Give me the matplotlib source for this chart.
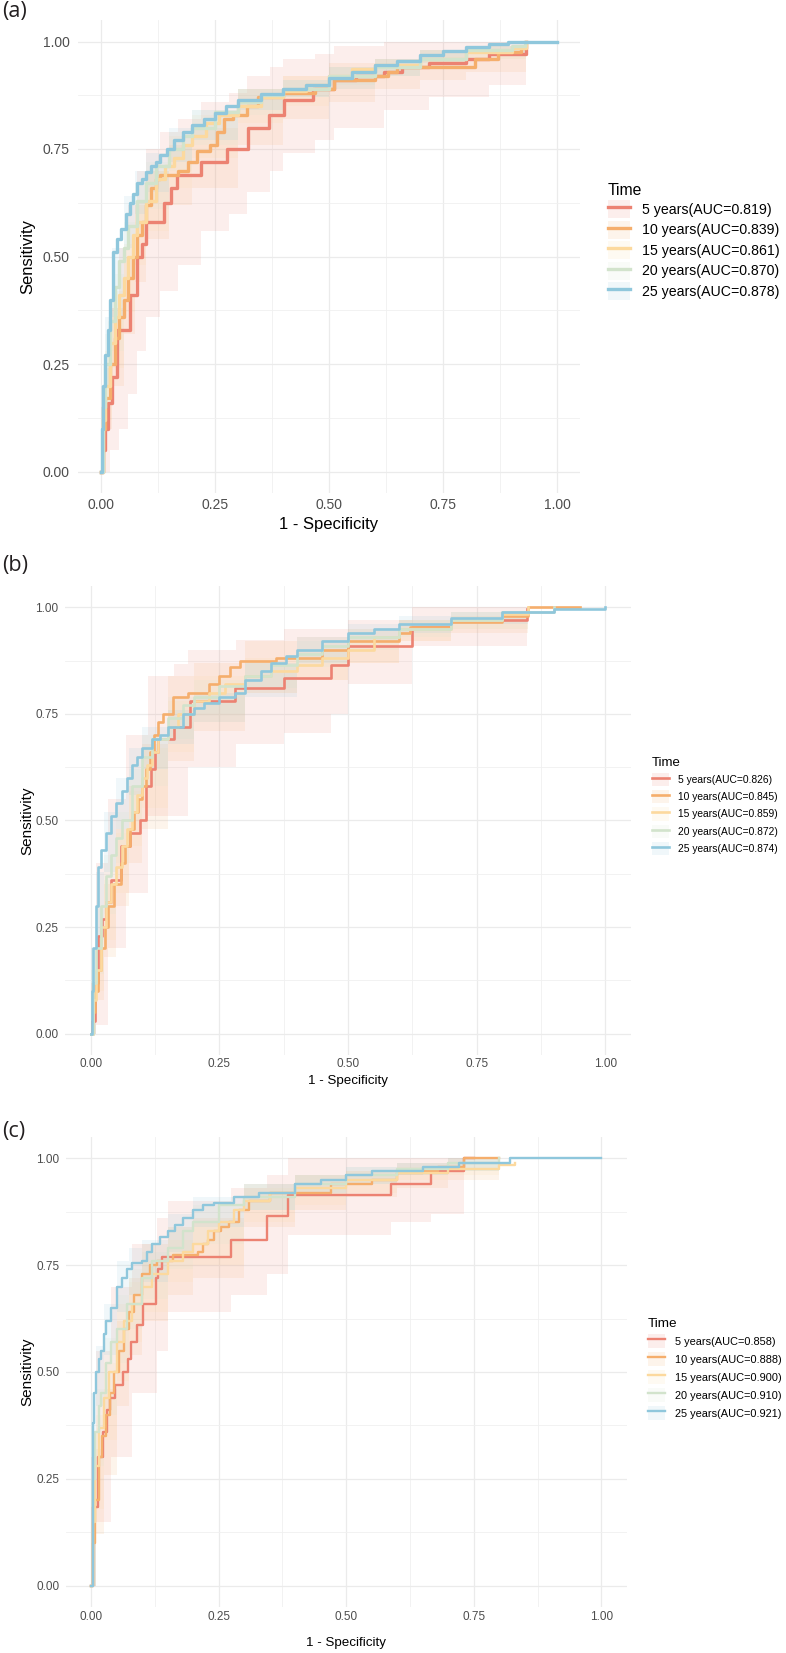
import matplotlib
matplotlib.use('Agg')
import matplotlib.pyplot as plt
from matplotlib.lines import Line2D
from matplotlib.patches import Patch

plt.rcParams['font.family'] = ['Liberation Sans', 'DejaVu Sans']

# ---------------- data ----------------
tick_vals = [0, 0.25, 0.5, 0.75, 1.0]
tick_labels = ['0.00', '0.25', '0.50', '0.75', '1.00']
series_names = ['5 years', '10 years', '15 years', '20 years', '25 years']
colors = ['#EC8272', '#F5AE6C', '#FCD99E', '#D2E3CC', '#8FC7DC']

a_auc = ['0.819', '0.839', '0.861', '0.870', '0.878']
b_auc = ['0.826', '0.845', '0.859', '0.872', '0.874']
c_auc = ['0.858', '0.888', '0.900', '0.910', '0.921']

# panel (a)
a5_fpr = [0, 0.004, 0.01, 0.016, 0.024, 0.036, 0.063, 0.079, 0.09, 0.10, 0.138, 0.153, 0.167,
          0.22, 0.276, 0.322, 0.369, 0.402, 0.465, 0.511, 0.56, 0.62, 0.66, 0.72, 0.80, 0.85, 0.932]
a5_tpr = [0, 0.05, 0.10, 0.16, 0.22, 0.33, 0.41, 0.50, 0.53, 0.58, 0.625, 0.66, 0.69,
          0.72, 0.75, 0.80, 0.83, 0.865, 0.89, 0.91, 0.92, 0.93, 0.94, 0.95, 0.96, 0.97, 1.0]
a10_fpr = [0, 0.005, 0.01, 0.02, 0.03, 0.04, 0.05, 0.06, 0.07, 0.08, 0.09, 0.10, 0.11, 0.12, 0.13,
           0.17, 0.19, 0.21, 0.24, 0.255, 0.27, 0.29, 0.32, 0.345, 0.40, 0.47, 0.51, 0.60, 0.63,
           0.65, 0.82, 0.87, 0.92, 0.932]
a10_tpr = [0, 0.10, 0.17, 0.25, 0.31, 0.36, 0.40, 0.45, 0.50, 0.55, 0.58, 0.62, 0.66, 0.68, 0.69,
           0.70, 0.72, 0.745, 0.76, 0.79, 0.82, 0.83, 0.85, 0.87, 0.88, 0.89, 0.91, 0.92, 0.93,
           0.94, 0.96, 0.975, 0.985, 1.0]
a15_fpr = [0, 0.005, 0.01, 0.02, 0.03, 0.04, 0.05, 0.06, 0.07, 0.08, 0.10, 0.12, 0.14, 0.16, 0.18,
           0.20, 0.23, 0.26, 0.30, 0.35, 0.40, 0.45, 0.50, 0.55, 0.60, 0.70, 0.80, 0.90, 0.932]
a15_tpr = [0, 0.12, 0.20, 0.30, 0.36, 0.41, 0.45, 0.50, 0.55, 0.58, 0.63, 0.68, 0.71, 0.73, 0.76,
           0.78, 0.81, 0.83, 0.85, 0.87, 0.885, 0.90, 0.92, 0.935, 0.945, 0.96, 0.975, 0.985, 1.0]
a20_fpr = [0, 0.005, 0.01, 0.02, 0.03, 0.04, 0.05, 0.06, 0.08, 0.10, 0.12, 0.15, 0.18, 0.20, 0.25,
           0.30, 0.35, 0.40, 0.50, 0.60, 0.70, 0.80, 0.90, 0.93]
a20_tpr = [0, 0.15, 0.25, 0.35, 0.43, 0.49, 0.52, 0.57, 0.63, 0.67, 0.71, 0.75, 0.78, 0.80, 0.835,
           0.86, 0.875, 0.89, 0.92, 0.94, 0.96, 0.98, 0.99, 1.0]
a25_fpr = [0, 0.002, 0.005, 0.01, 0.015, 0.02, 0.027, 0.035, 0.044, 0.055, 0.065, 0.071, 0.08,
           0.09, 0.099, 0.11, 0.12, 0.13, 0.145, 0.16, 0.18, 0.20, 0.225, 0.25, 0.275, 0.30,
           0.35, 0.40, 0.45, 0.50, 0.55, 0.60, 0.65, 0.70, 0.75, 0.80, 0.85, 0.893, 1.0]
a25_tpr = [0, 0.10, 0.20, 0.27, 0.33, 0.40, 0.51, 0.54, 0.565, 0.60, 0.625, 0.646, 0.67,
           0.68, 0.697, 0.71, 0.72, 0.736, 0.75, 0.77, 0.79, 0.805, 0.82, 0.833, 0.85, 0.864,
           0.878, 0.89, 0.90, 0.914, 0.93, 0.945, 0.955, 0.968, 0.978, 0.988, 0.995, 1.0, 1.0]

a5_band_fpr = [0, 0.02, 0.04, 0.06, 0.08, 0.10, 0.13, 0.17, 0.22, 0.28, 0.32, 0.37, 0.40, 0.47,
               0.51, 0.62, 0.72, 0.85, 0.932]
a5_lo = [0, 0.05, 0.10, 0.18, 0.28, 0.36, 0.42, 0.48, 0.56, 0.60, 0.65, 0.70, 0.74, 0.77,
         0.80, 0.84, 0.87, 0.90, 0.90]
a5_hi = [0.15, 0.38, 0.52, 0.62, 0.70, 0.75, 0.79, 0.82, 0.86, 0.88, 0.92, 0.94, 0.96, 0.97,
         0.99, 1.0, 1.0, 1.0, 1.0]
a_band_fpr = [0, 0.01, 0.025, 0.05, 0.075, 0.1, 0.15, 0.2, 0.3, 0.4, 0.5, 0.6, 0.7, 0.8, 0.932]
a10_lo = [0, 0.10, 0.20, 0.32, 0.44, 0.54, 0.62, 0.66, 0.76, 0.82, 0.86, 0.89, 0.91, 0.93, 0.95]
a10_hi = [0.1, 0.24, 0.38, 0.50, 0.62, 0.70, 0.76, 0.80, 0.89, 0.92, 0.95, 0.96, 0.98, 0.99, 1.0]
a15_lo = [0, 0.12, 0.24, 0.37, 0.48, 0.56, 0.66, 0.73, 0.81, 0.85, 0.89, 0.92, 0.94, 0.96, 0.97]
a15_hi = [0.12, 0.28, 0.42, 0.53, 0.63, 0.70, 0.78, 0.83, 0.89, 0.92, 0.94, 0.96, 0.98, 0.99, 1.0]
a20_lo = [0, 0.16, 0.28, 0.45, 0.55, 0.61, 0.70, 0.76, 0.83, 0.87, 0.90, 0.92, 0.94, 0.96, 0.98]
a20_hi = [0.15, 0.32, 0.46, 0.58, 0.67, 0.72, 0.79, 0.84, 0.89, 0.91, 0.94, 0.96, 0.98, 0.99, 1.0]
a25_lo = [0, 0.20, 0.36, 0.52, 0.60, 0.65, 0.72, 0.77, 0.84, 0.87, 0.89, 0.92, 0.95, 0.97, 0.99]
a25_hi = [0.2, 0.36, 0.52, 0.64, 0.70, 0.74, 0.80, 0.84, 0.89, 0.91, 0.94, 0.96, 0.98, 0.99, 1.0]

# panel (b)
b5_fpr = [0, 0.003, 0.008, 0.015, 0.022, 0.03, 0.039, 0.058, 0.076, 0.095, 0.107, 0.117, 0.125,
          0.131, 0.161, 0.193, 0.28, 0.375, 0.467, 0.50, 0.625, 0.70, 0.847]
b5_tpr = [0, 0.03, 0.12, 0.23, 0.27, 0.31, 0.36, 0.44, 0.47, 0.50, 0.58, 0.62, 0.66,
          0.69, 0.72, 0.78, 0.81, 0.835, 0.865, 0.91, 0.955, 0.97, 0.995]
b10_fpr = [0, 0.004, 0.008, 0.014, 0.02, 0.027, 0.034, 0.045, 0.058, 0.067, 0.076, 0.085, 0.092,
           0.10, 0.107, 0.115, 0.122, 0.13, 0.14, 0.16, 0.19, 0.23, 0.25, 0.27, 0.29, 0.36,
           0.45, 0.50, 0.60, 0.62, 0.70, 0.80, 0.85, 0.95]
b10_tpr = [0, 0.05, 0.10, 0.15, 0.20, 0.25, 0.30, 0.35, 0.40, 0.44, 0.48, 0.52, 0.55,
           0.58, 0.62, 0.66, 0.70, 0.73, 0.75, 0.79, 0.80, 0.82, 0.84, 0.86, 0.875, 0.88,
           0.90, 0.92, 0.94, 0.955, 0.965, 0.98, 1.0, 1.0]
b15_fpr = [0, 0.005, 0.01, 0.02, 0.03, 0.04, 0.05, 0.06, 0.07, 0.08, 0.09, 0.10, 0.11, 0.12, 0.13,
           0.15, 0.17, 0.20, 0.23, 0.26, 0.30, 0.35, 0.40, 0.45, 0.50, 0.55, 0.60, 0.70, 0.80, 0.85]
b15_tpr = [0, 0.08, 0.15, 0.25, 0.31, 0.35, 0.39, 0.44, 0.48, 0.52, 0.56, 0.60, 0.63, 0.66, 0.69,
           0.72, 0.75, 0.78, 0.80, 0.82, 0.84, 0.85, 0.865, 0.88, 0.90, 0.93, 0.95, 0.97, 0.985, 1.0]
b20_fpr = [0, 0.005, 0.01, 0.02, 0.03, 0.04, 0.05, 0.06, 0.08, 0.10, 0.12, 0.15, 0.18, 0.20, 0.25,
           0.30, 0.35, 0.40, 0.45, 0.50, 0.60, 0.70, 0.80, 0.90]
b20_tpr = [0, 0.12, 0.20, 0.30, 0.37, 0.42, 0.46, 0.50, 0.58, 0.65, 0.69, 0.74, 0.77, 0.79, 0.815,
           0.84, 0.865, 0.89, 0.91, 0.93, 0.95, 0.97, 0.99, 1.0]
b25_fpr = [0, 0.002, 0.005, 0.01, 0.015, 0.02, 0.03, 0.04, 0.05, 0.06, 0.07, 0.08, 0.09, 0.10,
           0.12, 0.135, 0.15, 0.18, 0.20, 0.22, 0.25, 0.28, 0.30, 0.33, 0.35, 0.38, 0.40, 0.45,
           0.50, 0.55, 0.60, 0.70, 0.80, 0.90, 1.0]
b25_tpr = [0, 0.10, 0.20, 0.30, 0.39, 0.43, 0.47, 0.51, 0.54, 0.57, 0.60, 0.63, 0.65, 0.67,
           0.69, 0.70, 0.72, 0.75, 0.765, 0.775, 0.79, 0.80, 0.83, 0.85, 0.87, 0.885, 0.90, 0.92,
           0.94, 0.95, 0.96, 0.975, 0.99, 0.995, 1.0]

b5_band_fpr = [0, 0.01, 0.034, 0.068, 0.112, 0.161, 0.19, 0.282, 0.375, 0.467, 0.50, 0.625, 0.847]
b5_lo = [0, 0.02, 0.20, 0.33, 0.51, 0.51, 0.625, 0.68, 0.705, 0.75, 0.82, 0.91, 0.91]
b5_hi = [0.12, 0.40, 0.55, 0.70, 0.84, 0.867, 0.90, 0.924, 0.948, 0.948, 0.97, 1.0, 1.0]
b_band_fpr = [0, 0.01, 0.025, 0.05, 0.075, 0.1, 0.15, 0.2, 0.3, 0.4, 0.5, 0.6, 0.7, 0.85]
b10_lo = [0, 0.08, 0.18, 0.30, 0.40, 0.48, 0.64, 0.71, 0.80, 0.83, 0.87, 0.92, 0.94, 0.97]
b10_hi = [0.1, 0.20, 0.35, 0.48, 0.58, 0.68, 0.84, 0.87, 0.92, 0.93, 0.95, 0.97, 0.98, 1.0]
b15_lo = [0, 0.10, 0.22, 0.33, 0.44, 0.53, 0.66, 0.73, 0.80, 0.83, 0.87, 0.92, 0.95, 0.97]
b15_hi = [0.1, 0.22, 0.36, 0.47, 0.57, 0.67, 0.78, 0.84, 0.88, 0.90, 0.93, 0.97, 0.99, 1.0]
b20_lo = [0, 0.14, 0.28, 0.40, 0.50, 0.58, 0.69, 0.75, 0.81, 0.86, 0.90, 0.93, 0.95, 0.98]
b20_hi = [0.15, 0.30, 0.42, 0.52, 0.62, 0.70, 0.79, 0.83, 0.87, 0.92, 0.95, 0.97, 0.99, 1.0]
b25_lo = [0, 0.22, 0.38, 0.48, 0.56, 0.62, 0.68, 0.73, 0.79, 0.87, 0.92, 0.94, 0.96, 0.98]
b25_hi = [0.2, 0.38, 0.52, 0.60, 0.67, 0.72, 0.76, 0.80, 0.87, 0.93, 0.96, 0.98, 0.99, 1.0]

# panel (c)
c5_fpr = [0, 0.003, 0.013, 0.023, 0.032, 0.037, 0.047, 0.062, 0.072, 0.079, 0.091, 0.101, 0.128,
          0.131, 0.14, 0.275, 0.345, 0.386, 0.587, 0.666, 0.73, 0.75]
c5_tpr = [0, 0.185, 0.30, 0.36, 0.41, 0.44, 0.47, 0.50, 0.53, 0.57, 0.61, 0.66, 0.72,
          0.74, 0.77, 0.81, 0.865, 0.915, 0.94, 0.97, 1.0, 1.0]
c10_fpr = [0, 0.003, 0.008, 0.015, 0.022, 0.03, 0.037, 0.045, 0.055, 0.065, 0.075, 0.085, 0.10,
           0.115, 0.13, 0.16, 0.21, 0.22, 0.23, 0.24, 0.255, 0.27, 0.29, 0.31, 0.35, 0.47, 0.55,
           0.60, 0.65, 0.68, 0.73, 0.80]
c10_tpr = [0, 0.10, 0.20, 0.30, 0.35, 0.40, 0.45, 0.50, 0.55, 0.60, 0.64, 0.68, 0.73,
           0.75, 0.76, 0.775, 0.78, 0.80, 0.81, 0.83, 0.84, 0.85, 0.88, 0.90, 0.92, 0.94, 0.95,
           0.965, 0.97, 0.98, 1.0, 1.0]
c15_fpr = [0, 0.003, 0.008, 0.015, 0.025, 0.035, 0.05, 0.065, 0.08, 0.10, 0.12, 0.15, 0.18, 0.20,
           0.23, 0.25, 0.28, 0.30, 0.35, 0.40, 0.50, 0.60, 0.70, 0.80, 0.83]
c15_tpr = [0, 0.15, 0.28, 0.37, 0.44, 0.50, 0.57, 0.62, 0.66, 0.70, 0.73, 0.76, 0.78, 0.80,
           0.83, 0.85, 0.88, 0.90, 0.92, 0.93, 0.95, 0.965, 0.975, 0.985, 0.99]
c20_fpr = [0, 0.003, 0.008, 0.015, 0.02, 0.03, 0.04, 0.05, 0.07, 0.10, 0.12, 0.15, 0.18, 0.20,
           0.25, 0.30, 0.40, 0.50, 0.60, 0.70, 0.80]
c20_tpr = [0, 0.25, 0.36, 0.42, 0.45, 0.52, 0.57, 0.60, 0.66, 0.72, 0.76, 0.79, 0.83, 0.85,
           0.89, 0.91, 0.94, 0.96, 0.975, 0.99, 1.0]
c25_fpr = [0, 0.003, 0.006, 0.01, 0.015, 0.02, 0.025, 0.03, 0.04, 0.05, 0.06, 0.07, 0.08, 0.10,
           0.11, 0.12, 0.135, 0.15, 0.165, 0.18, 0.20, 0.22, 0.24, 0.28, 0.33, 0.40, 0.45, 0.50,
           0.55, 0.65, 0.72, 0.82, 1.0]
c25_tpr = [0, 0.38, 0.45, 0.50, 0.53, 0.55, 0.59, 0.62, 0.65, 0.70, 0.72, 0.74, 0.755, 0.76,
           0.78, 0.80, 0.815, 0.83, 0.845, 0.86, 0.88, 0.89, 0.895, 0.91, 0.92, 0.94, 0.95, 0.96,
           0.97, 0.98, 0.99, 1.0, 1.0]

c5_band_fpr = [0, 0.01, 0.04, 0.08, 0.13, 0.15, 0.275, 0.345, 0.386, 0.587, 0.666, 0.73]
c5_lo = [0, 0.15, 0.30, 0.45, 0.55, 0.64, 0.68, 0.73, 0.82, 0.85, 0.87, 0.87]
c5_hi = [0.3, 0.55, 0.70, 0.80, 0.86, 0.90, 0.93, 0.96, 1.0, 1.0, 1.0, 1.0]
c_band_fpr = [0, 0.01, 0.025, 0.05, 0.075, 0.1, 0.15, 0.2, 0.3, 0.4, 0.5, 0.6, 0.7, 0.8]
c10_lo = [0, 0.12, 0.26, 0.42, 0.54, 0.62, 0.68, 0.72, 0.84, 0.88, 0.91, 0.93, 0.95, 0.98]
c10_hi = [0.15, 0.32, 0.46, 0.62, 0.72, 0.80, 0.84, 0.86, 0.94, 0.96, 0.97, 0.99, 1.0, 1.0]
c15_lo = [0, 0.18, 0.34, 0.48, 0.57, 0.64, 0.71, 0.75, 0.85, 0.89, 0.92, 0.95, 0.96, 0.98]
c15_hi = [0.2, 0.40, 0.52, 0.66, 0.71, 0.76, 0.81, 0.85, 0.93, 0.96, 0.97, 0.98, 0.99, 1.0]
c20_lo = [0, 0.28, 0.40, 0.52, 0.60, 0.67, 0.74, 0.80, 0.88, 0.91, 0.94, 0.96, 0.97, 0.99]
c20_hi = [0.25, 0.46, 0.58, 0.68, 0.74, 0.78, 0.84, 0.89, 0.94, 0.96, 0.98, 0.99, 1.0, 1.0]
c25_lo = [0, 0.42, 0.54, 0.64, 0.68, 0.71, 0.78, 0.84, 0.88, 0.92, 0.94, 0.96, 0.97, 0.98]
c25_hi = [0.45, 0.56, 0.66, 0.76, 0.79, 0.81, 0.87, 0.91, 0.94, 0.96, 0.98, 0.99, 1.0, 1.0]

# ---------------- drawing ----------------
W, H = 786, 1653
fig = plt.figure(figsize=(W / 100, H / 100), dpi=100)


def add_axes_px(left, top, right, bottom):
    return fig.add_axes([left / W, 1 - bottom / H, (right - left) / W, (bottom - top) / H])


def draw_panel(box, curves, bands, aucs, tag, tag_y, st):
    left, top, right, bottom = box
    ax = add_axes_px(*box)
    for (bx, lo, hi), col in zip(bands, colors):
        ax.fill_between(bx, lo, hi, step='post', color=col, alpha=0.13, lw=0)
    for (cx, cy), col in zip(curves, colors):
        ax.plot(cx, cy, drawstyle='steps-post', color=col, lw=st['lw'])

    ax.set_xlim(-0.05, 1.05)
    ax.set_ylim(-0.05, 1.05)
    ax.set_xticks(tick_vals)
    ax.set_yticks(tick_vals)
    ax.set_xticklabels(tick_labels)
    ax.set_yticklabels(tick_labels)
    ax.set_xticks([0.125, 0.375, 0.625, 0.875], minor=True)
    ax.set_yticks([0.125, 0.375, 0.625, 0.875], minor=True)
    ax.grid(which='major', color='#EBEBEB', lw=0.9)
    ax.grid(which='minor', color='#F0F0F0', lw=0.6)
    ax.set_axisbelow(True)
    for s in ax.spines.values():
        s.set_visible(False)
    ax.tick_params(which='both', length=0, labelsize=st['tick'], labelcolor='#4D4D4D')
    ax.tick_params(axis='x', pad=st['xpad'])
    ax.tick_params(axis='y', pad=st['ypad'])

    ax.set_xlabel('1 - Specificity', fontsize=st['labx'], va='center')
    ax.set_ylabel('Sensitivity', fontsize=st['laby'], va='center')
    ax.xaxis.set_label_coords(0.5, (bottom - st['xlab_y']) / (bottom - top))
    ax.yaxis.set_label_coords((st['ylab_x'] - left) / (right - left), 0.5)

    handles = [(Patch(facecolor=c, alpha=0.13, edgecolor='none'),
                Line2D([], [], color=c, lw=st['lw'])) for c in colors]
    labels = ['%s(AUC=%s)' % (n, a) for n, a in zip(series_names, aucs)]
    lx, ly = st['leg']
    ax.legend(handles, labels, loc='upper left', bbox_to_anchor=(lx / W, 1 - ly / H),
              bbox_transform=fig.transFigure, frameon=False, title='Time', alignment='left',
              fontsize=st['legfs'], title_fontsize=st['titlefs'], handlelength=st['hl'],
              handleheight=1.6, handletextpad=st['htp'], labelspacing=st['ls'],
              borderpad=0, borderaxespad=0)

    fig.text(2 / W, 1 - tag_y / H, tag, fontsize=15.5, family=['Open Sans', 'DejaVu Sans'],
             va='center', ha='left', color='#231F20')
    return ax


a_curves = [(a5_fpr, a5_tpr), (a10_fpr, a10_tpr), (a15_fpr, a15_tpr), (a20_fpr, a20_tpr), (a25_fpr, a25_tpr)]
a_bands = [(a5_band_fpr, a5_lo, a5_hi), (a_band_fpr, a10_lo, a10_hi), (a_band_fpr, a15_lo, a15_hi),
           (a_band_fpr, a20_lo, a20_hi), (a_band_fpr, a25_lo, a25_hi)]
b_curves = [(b5_fpr, b5_tpr), (b10_fpr, b10_tpr), (b15_fpr, b15_tpr), (b20_fpr, b20_tpr), (b25_fpr, b25_tpr)]
b_bands = [(b5_band_fpr, b5_lo, b5_hi), (b_band_fpr, b10_lo, b10_hi), (b_band_fpr, b15_lo, b15_hi),
           (b_band_fpr, b20_lo, b20_hi), (b_band_fpr, b25_lo, b25_hi)]
c_curves = [(c5_fpr, c5_tpr), (c10_fpr, c10_tpr), (c15_fpr, c15_tpr), (c20_fpr, c20_tpr), (c25_fpr, c25_tpr)]
c_bands = [(c5_band_fpr, c5_lo, c5_hi), (c_band_fpr, c10_lo, c10_hi), (c_band_fpr, c15_lo, c15_hi),
           (c_band_fpr, c20_lo, c20_hi), (c_band_fpr, c25_lo, c25_hi)]

style_a = dict(lw=2.4, tick=10, labx=12, laby=12, xpad=3.7, ypad=5.8, xlab_y=525, ylab_x=27.5,
               leg=(608, 183), legfs=10.2, titlefs=11.3, hl=1.55, htp=0.85, ls=0.16)
style_b = dict(lw=1.9, tick=8.5, labx=9.6, laby=11, xpad=2.3, ypad=4.8, xlab_y=1081, ylab_x=27.5,
               leg=(652, 757), legfs=7.4, titlefs=9.5, hl=1.65, htp=0.9, ls=0.39)
style_c = dict(lw=1.7, tick=8.5, labx=9.6, laby=11, xpad=3.0, ypad=4.5, xlab_y=1643, ylab_x=27.5,
               leg=(648, 1318), legfs=7.9, titlefs=9.7, hl=1.55, htp=0.91, ls=0.36)

draw_panel((78, 20, 580, 493), a_curves, a_bands, a_auc, '(a)', 12, style_a)
draw_panel((65, 586, 631, 1055), b_curves, b_bands, b_auc, '(b)', 566, style_b)
draw_panel((65.5, 1137, 627, 1607), c_curves, c_bands, c_auc, '(c)', 1131, style_c)

fig.savefig('out.png', dpi=100)
